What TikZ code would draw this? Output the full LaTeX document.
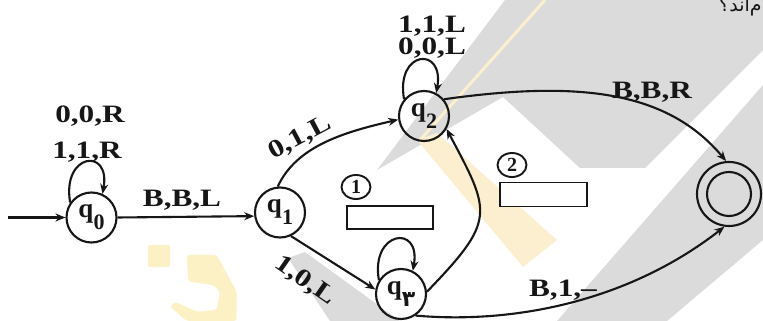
\documentclass[tikz,border=0pt]{standalone}
\usepackage{fontspec}
\setmainfont{Liberation Serif}
\newfontfamily\persfont[Script=Arabic]{DejaVu Sans}
\TeXXeTstate=1
\usetikzlibrary{arrows.meta,shapes.geometric}
\definecolor{ink}{HTML}{161616}
\definecolor{wmgray}{HTML}{DBDBDB}
\definecolor{wmcream}{HTML}{FBEFCF}
\definecolor{wmyellow}{HTML}{FBF1C4}

% state name: bold q with a lowered index
\newcommand\qname[1]{{\fontsize{27}{27}\selectfont\bfseries q\raisebox{-12pt}{\fontsize{22}{22}\selectfont #1}}}
% transition label in wide bold serif
\newcommand\tlabel[1]{\scalebox{1.25}[1]{\fontsize{25}{25}\selectfont\bfseries #1}}

\begin{document}
\begin{tikzpicture}[x=1pt,y=1pt,
  state/.style={circle,draw=ink,line width=2.1pt,minimum size=50pt,inner sep=0pt,text=ink},
  edge/.style={draw=ink,line width=2.1pt,-{Stealth[length=10pt,width=8pt]}},
  lab/.style={inner sep=0pt,text=ink},
  blank/.style={rectangle,draw=ink,fill=white,line width=1.9pt,minimum width=86pt,minimum height=23pt,inner sep=0pt},
  numtag/.style={ellipse,draw=ink,line width=1.9pt,minimum width=29pt,minimum height=24pt,inner sep=0pt,text=ink,font=\fontsize{20}{20}\selectfont\bfseries}
]
\useasboundingbox (0,0) rectangle (763,321);

% background and faint watermark bands
\begin{scope}
\clip (0,0) rectangle (763,321);
\fill[white] (0,0) rectangle (763,321);
\fill[wmgray] (505,321) -- (763,321) -- (763,271) -- (645,153) -- (580,153) -- (503,224) -- (377,151) -- cycle;
\fill[wmgray] (557,0) -- (667,0) -- (763,81) -- (763,236) -- cycle;
\fill[wmgray] (288,63) -- (305,69) -- (400,0) -- (330,0) -- cycle;
\draw[wmcream,line width=3pt] (545,321) -- (420,181);
\fill[wmcream] (417,181) -- (437,188) -- (557,81) -- (523,54) -- cycle;
% faded logo in the lower left
\fill[wmyellow,rounded corners=2pt] (148,76) rectangle (170,54);
\fill[wmyellow,rounded corners=3pt] (186.7,66) -- (216.7,66) -- (236.7,29.3) -- (236.7,0) -- (186.7,0)
  -- (170,14.3) -- (175,19.3) -- (196.7,9.3) -- (216.7,11) -- (220,29.3) -- (213.3,36) -- (188.3,39.3) -- cycle;
% cut-off question text in the corner
\node[anchor=base west,inner sep=0pt,text=ink] (ptxt) at (719,309) {\fontsize{19}{19}\persfont\beginR کدام‌اند؟\endR};
\end{scope}

% states
\node[state] (q0) at (91.5,103.5) {\qname{0}};
\node[state] (q1) at (280,108.5) {\qname{1}};
\node[state] (q2) at (424,205) {\qname{2}};
\node[state] (q3) at (401,27) {\qname{\persfont ۳}};
\node[circle,draw=ink,line width=2.1pt,minimum size=64pt,inner sep=0pt] (qf) at (729,127) {};
\node[circle,draw=ink,line width=2.1pt,minimum size=44pt,inner sep=0pt] (qfin) at (qf.center) {};
\coordinate (init) at (8,103.5);

% answer boxes with their numbers
\node[blank] (box1) at (390,103.5) {};
\node[numtag] (n1) at (356,134) {1};
\node[blank,minimum width=87pt,minimum height=24pt] (box2) at (543.5,126.5) {};
\node[numtag] (n2) at (512,156) {2};

% transitions
\draw[edge] (init) -- (q0);
\draw[edge] (q0.east) -- (q1.188);
\draw[edge] (q0.145) .. controls +(100:50) and +(80:48) .. (q0.65);
\draw[edge] (q2.140) .. controls +(100:50) and +(80:48) .. (q2.62);
\draw[edge] (q3.148) .. controls +(100:50) and +(80:48) .. (q3.63);
\draw[edge] (q1.95) .. controls +(65:45) and +(193:55) .. (q2.188);
\draw[edge] (q1.-65) -- (q3.170);
\draw[edge] (q3.5) .. controls +(46:100) and +(-62:95) .. (q2.-30);
\draw[edge] (q2.40) .. controls +(8:140) and +(130:90) .. (qf.95);
\draw[edge] (q3.-56) .. controls +(-5:100) and +(218:120) .. (qf.262);

% transition labels
\node[lab] (l00R) at (90,205) {\tlabel{0,0,R}};
\node[lab] (l11R) at (87,169) {\tlabel{1,1,R}};
\node[lab] (lBBL) at (182,121) {\tlabel{B,B,L}};
\node[lab,rotate=28] (l01L) at (300,183) {\tlabel{0,1,L}};
\node[lab,rotate=-35] (l10L) at (305,40) {\tlabel{1,0,L}};
\node[lab] (l11L) at (432,295) {\tlabel{1,1,L}};
\node[lab] (l00L) at (432,273) {\tlabel{0,0,L}};
\node[lab] (lBBR) at (652,229) {\tlabel{B,B,R}};
\node[lab] (lB1) at (563,31) {\tlabel{B,1,--}};
\end{tikzpicture}
\end{document}
